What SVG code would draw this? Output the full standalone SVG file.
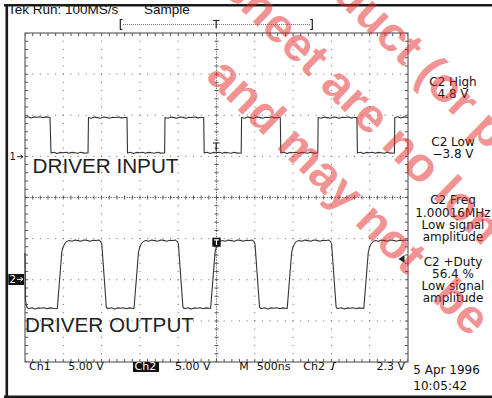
<svg xmlns="http://www.w3.org/2000/svg" width="492" height="398" viewBox="0 0 492 398">
<defs>
<style>
.frame{stroke:#1a1a1a;stroke-width:2.6;fill:none}
.grat{stroke:#555;stroke-width:1.1;fill:none}
.hdot{stroke:#666;stroke-width:1;stroke-dasharray:1 6.66;stroke-dashoffset:0.5}
.vdot{stroke:#666;stroke-width:1;stroke-dasharray:1 7.225;stroke-dashoffset:0.5}
.htick{stroke:#555;stroke-dasharray:1 6.66;stroke-dashoffset:0.5}
.vtick{stroke:#555;stroke-dasharray:1 7.225;stroke-dashoffset:0.5}
.cdash{stroke:#777;stroke-width:1;stroke-dasharray:1.4 1.2}
.wave{stroke:#333;stroke-width:1.1;fill:none;stroke-linejoin:round}
.mono{font-family:"DejaVu Sans",sans-serif;fill:#111}
.meas{font-family:"DejaVu Sans",sans-serif;font-size:12px;fill:#111;text-anchor:middle}
.big{font-family:"Liberation Sans",Arial,sans-serif;font-size:20.7px;fill:#222}
.wm{font-family:"Liberation Sans",Arial,sans-serif;font-weight:bold;font-size:48px;fill:rgb(230,40,40);fill-opacity:0.5}
</style>
</defs>
<rect width="492" height="398" fill="#fff"/>

<g id="header">
<text class="big" x="8" y="14.4" style="font-size:13.5px;fill:#111">Tek Run: 100MS/s</text>
<text class="big" x="144" y="14.4" style="font-size:13.5px;fill:#111">Sample</text>
<path d="M122.5,19.5 H120.3 V29.5 H122.5 M310,19.5 H312.3 V29.5 H310 M213,20.5 H219.5 M216.2,20.5 V28.5" stroke="#222" stroke-width="1.2" fill="none"/>
<line x1="123" y1="24.5" x2="310" y2="24.5" stroke="#777" stroke-width="1" stroke-dasharray="1 1"/>
</g>

<g id="graticule">
<rect class="grat" x="25" y="33" width="383" height="329"/>
<path class="vdot" d="M63.3,33V362M101.6,33V362M139.9,33V362M178.2,33V362M254.8,33V362M293.1,33V362M331.4,33V362M369.7,33V362"/>
<path class="hdot" d="M25,74.1H408M25,115.25H408M25,156.4H408M25,238.6H408M25,279.75H408M25,320.9H408"/>
<path class="cdash" d="M25,197.5H408M216.5,33V362"/>
<path class="htick" stroke-width="3" d="M25,34.5H408M25,360.5H408"/>
<path class="vtick" stroke-width="3" d="M26.5,33V362M406.5,33V362"/>
<path class="htick" stroke-width="4" d="M25,197.5H408"/>
<path class="vtick" stroke-width="4" d="M216.5,33V362"/>
</g>

<g id="ch1-trace">
<path class="wave" d="M25,117.5 l3,-0.8 l3,1.2 l3,-1 l3,0.4 l3,-0.6 l3,1.1 l3,-0.9 L50,117.5 L51,153 l3,-0.8 l3,1.2 l3,-1 l3,0.4 l3,-0.6 l3,1.1 l3,-0.9 l3,0.3 l3,0.5 l3,-1 l3,0.9 l3,-0.1 L88,153 L88.5,117.5 l3,0.7 l3,-1.1 l3,0.5 l3,0.6 l3,-1.2 l3,0.4 l3,0.8 l3,-0.9 l3,0.2 l3,-0.5 l3,0.9 l3,-0.4 L127,117.5 L127.5,153 l3,-0.8 l3,1.2 l3,-1 l3,0.4 l3,-0.6 l3,1.1 l3,-0.9 l3,0.3 l3,0.5 l3,-1 l3,0.9 l3,-0.1 L164.6,153 L165,117.5 l3,0.7 l3,-1.1 l3,0.5 l3,0.6 l3,-1.2 l3,0.4 l3,0.8 l3,-0.9 l3,0.2 l3,-0.5 l3,0.9 l3,-0.4 L203.7,117.5 L204.2,153 l3,-0.8 l3,1.2 l3,-1 l3,0.4 l3,-0.6 l3,1.1 l3,-0.9 l3,0.3 l3,0.5 l3,-1 l3,0.9 l3,-0.1 L241.2,153 L241.6,117.5 l3,0.7 l3,-1.1 l3,0.5 l3,0.6 l3,-1.2 l3,0.4 l3,0.8 l3,-0.9 l3,0.2 l3,-0.5 l3,0.9 l3,-0.4 L280.3,117.5 L280.8,153 l3,-0.8 l3,1.2 l3,-1 l3,0.4 l3,-0.6 l3,1.1 l3,-0.9 l3,0.3 l3,0.5 l3,-1 l3,0.9 l3,-0.1 L317.8,153 L318.2,117.5 l3,0.7 l3,-1.1 l3,0.5 l3,0.6 l3,-1.2 l3,0.4 l3,0.8 l3,-0.9 l3,0.2 l3,-0.5 l3,0.9 l3,-0.4 L356.9,117.5 L357.4,153 l3,-0.8 l3,1.2 l3,-1 l3,0.4 l3,-0.6 l3,1.1 l3,-0.9 l3,0.3 l3,0.5 l3,-1 l3,0.9 l3,-0.1 L394.4,153 L394.8,117.5 l3,-0.8 l3,1.2 l3,-1 l3,0.4 L408,117.5"/>
<path d="M213,143 H219.5 M216.2,143 V151.5" stroke="#222" stroke-width="1.2" fill="none"/>
</g>

<g id="ch2-trace">
<path class="wave" d="M25,253 L25.5,300 L27,307.5 L29,308.5 l3,-0.8 l3,1.2 l3,-1 l3,0.4 l3,-0.6 l3,1.1 l3,-0.9 l3,0.3 l3,0.5 L57.3,308.5 L61.8,252 Q64,241 69,240.5 l3,0.7 l3,-1.1 l3,0.5 l3,0.6 l3,-1.2 l3,0.4 l3,0.8 l3,-0.9 l3,0.2 l3,-0.5 L99.3,240.5 Q101.3,241 101.8,244 L106.3,307 Q106.8,308.5 108.5,308.5 l3,-0.8 l3,1.2 l3,-1 l3,0.4 l3,-0.6 l3,1.1 l3,-0.9 l3,0.3 L134,308.5 L138.5,252 Q140.7,241 145.7,240.5 l3,0.7 l3,-1.1 l3,0.5 l3,0.6 l3,-1.2 l3,0.4 l3,0.8 l3,-0.9 l3,0.2 l3,-0.5 L175.9,240.5 Q177.9,241 178.4,244 L182.9,307 Q183.4,308.5 185.1,308.5 l3,-0.8 l3,1.2 l3,-1 l3,0.4 l3,-0.6 l3,1.1 l3,-0.9 l3,0.3 L210.6,308.5 L215.1,252 Q217.3,241 222.3,240.5 l3,0.7 l3,-1.1 l3,0.5 l3,0.6 l3,-1.2 l3,0.4 l3,0.8 l3,-0.9 l3,0.2 l3,-0.5 L252.5,240.5 Q254.5,241 255,244 L259.5,307 Q260,308.5 261.7,308.5 l3,-0.8 l3,1.2 l3,-1 l3,0.4 l3,-0.6 l3,1.1 l3,-0.9 l3,0.3 L287.2,308.5 L291.7,252 Q293.9,241 298.9,240.5 l3,0.7 l3,-1.1 l3,0.5 l3,0.6 l3,-1.2 l3,0.4 l3,0.8 l3,-0.9 l3,0.2 l3,-0.5 L329.1,240.5 Q331.1,241 331.6,244 L336.1,307 Q336.6,308.5 338.3,308.5 l3,-0.8 l3,1.2 l3,-1 l3,0.4 l3,-0.6 l3,1.1 l3,-0.9 l3,0.3 L363.8,308.5 L368.3,252 Q370.5,241 375.5,240.5 l3,0.7 l3,-1.1 l3,0.5 l3,0.6 l3,-1.2 l3,0.4 l3,0.8 l3,-0.9 l3,0.2 l3,-0.5 L408,240.5"/>
<rect x="212.3" y="237.7" width="8.4" height="9" fill="#111"/>
<path d="M214,239.8 H219 M216.5,239.8 V245" stroke="#fff" stroke-width="1.2" fill="none"/>
<path d="M398.5,259 L404.5,255 V263 Z" fill="#222"/>
</g>

<g id="ch-markers">
<text class="mono" x="9.5" y="160" style="font-size:10px">1</text>
<path d="M17,156.7 H22.5 M20.5,154.8 L23,156.7 L20.5,158.6" stroke="#222" stroke-width="1" fill="none"/>
<rect x="8.3" y="274" width="15.7" height="11" fill="#111"/>
<text class="mono" x="9.6" y="283.3" style="font-size:10px;fill:#fff">2</text>
<path d="M17,279.3 H22.5 M20.5,277.4 L23,279.3 L20.5,281.2" stroke="#fff" stroke-width="1" fill="none"/>
</g>

<g id="labels">
<text class="big" x="32.5" y="173.3">DRIVER INPUT</text>
<text class="big" x="25" y="331.7">DRIVER OUTPUT</text>
</g>

<g id="measurements">
<text class="meas" x="453" y="86">C2 High</text>
<text class="meas" x="453" y="98.3">4.8 V</text>
<text class="meas" x="453" y="146">C2 Low</text>
<text class="meas" x="453" y="158.3">−3.8 V</text>
<text class="meas" x="453" y="204.3">C2 Freq</text>
<text class="meas" x="453" y="216.6">1.00016MHz</text>
<text class="meas" x="453" y="228.9">Low signal</text>
<text class="meas" x="453" y="241.2">amplitude</text>
<text class="meas" x="453" y="265.6">C2 +Duty</text>
<text class="meas" x="453" y="277.5">56.4 %</text>
<text class="meas" x="453" y="289.6">Low signal</text>
<text class="meas" x="453" y="301.8">amplitude</text>
</g>

<g id="footer">
<text class="mono" x="29" y="370" style="font-size:11px">Ch1</text>
<text class="mono" x="68.3" y="370" style="font-size:11px">5.00 V</text>
<rect x="133" y="362" width="26" height="10" fill="#111"/>
<text class="mono" x="134.5" y="370" style="font-size:11px;fill:#fff">Ch2</text>
<text class="mono" x="175" y="370" style="font-size:11px">5.00 V</text>
<text class="mono" x="239.3" y="370" style="font-size:11px">M</text>
<text class="mono" x="256.7" y="370" style="font-size:11px">500ns</text>
<text class="mono" x="303.3" y="370" style="font-size:11px">Ch2</text>
<path d="M330.5,369.5 H332.3 L334,362.5 H336" stroke="#111" stroke-width="1.2" fill="none"/>
<text class="mono" x="405" y="370" style="font-size:11px;text-anchor:end">2.3 V</text>
<text class="mono" x="413.3" y="374.3" style="font-size:12px">5 Apr 1996</text>
<text class="mono" x="413.3" y="390" style="font-size:12px">10:05:42</text>
</g>

<g id="border">
<path class="frame" d="M4,5.3 H492 M6.8,4 V398 M4,396.8 H492"/>
</g>

<g id="watermark" transform="translate(223,78) rotate(44.4)">
<text class="wm" x="-57" y="-134.5">product (or p</text>
<text class="wm" x="-64.3" y="-61">sheet are no lon</text>
<text class="wm" x="-13.3" y="12.5">and may not <tspan dx="20">be</tspan></text>
</g>
</svg>
